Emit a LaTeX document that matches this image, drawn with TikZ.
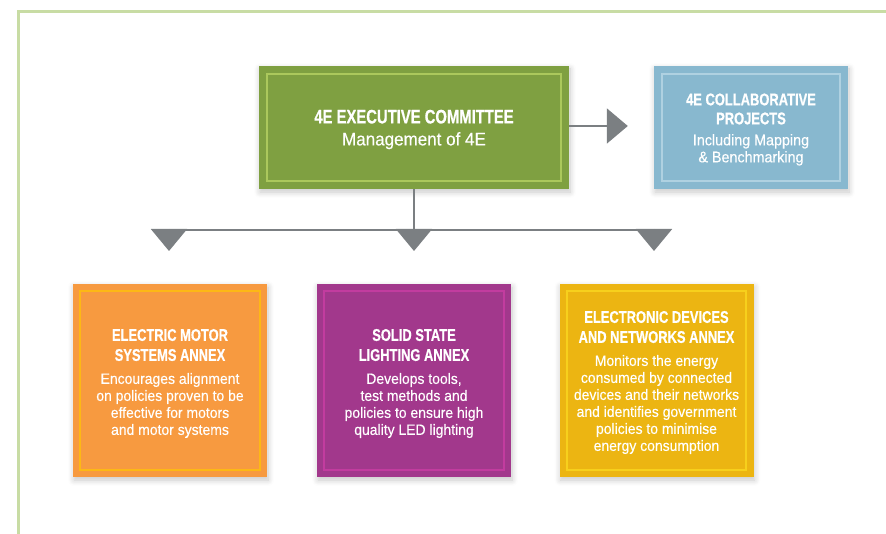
\documentclass[tikz,border=0pt]{standalone}
\usepackage{fontspec}
\usetikzlibrary{calc,arrows.meta,shadows.blur}
\newfontfamily\hdfont[FakeStretch=0.76,FakeBold=0.6]{Liberation Sans}
\newfontfamily\bdfont[FakeStretch=0.93,FakeBold=0.25]{Liberation Sans}
\definecolor{frameG}{HTML}{C8DCA4}
\definecolor{conn}{HTML}{7B7F82}
\definecolor{grn}{HTML}{7FA041}
\definecolor{grnIn}{HTML}{ABC85C}
\definecolor{blu}{HTML}{88B8CF}
\definecolor{bluIn}{HTML}{AFD1E1}
\definecolor{org}{HTML}{F79A40}
\definecolor{orgIn}{HTML}{FDB815}
\definecolor{pur}{HTML}{A2388C}
\definecolor{purIn}{HTML}{C23C9F}
\definecolor{yel}{HTML}{ECB512}
\definecolor{yelIn}{HTML}{F7D01C}
\tikzset{
  box/.style={draw=none, inner sep=0pt, rectangle,
    blur shadow={shadow xshift=1pt, shadow yshift=-3pt, shadow blur radius=6pt, shadow opacity=22, shadow blur steps=8}},
  topbox/.style={box, minimum width=310pt, minimum height=123pt},
  sidebox/.style={box, minimum width=194pt, minimum height=123pt},
  lowbox/.style={box, minimum width=194pt, minimum height=193pt},
  inframe/.style={line width=1.8pt},
  boxtext/.style={text=white, align=center, inner sep=0pt},
  connline/.style={draw=conn, line width=2pt},
  tridown/.style={connline, -{Triangle[width=36pt,length=22pt]}, conn},
  triright/.style={connline, -{Triangle[width=35pt,length=21pt]}, conn}
}
\newcommand{\hdA}{\hdfont\bfseries\fontsize{19.5}{22}\selectfont}
\newcommand{\hdB}{\hdfont\bfseries\fontsize{17}{17}\selectfont}
\begin{document}
\begin{tikzpicture}[x=1pt,y=-1pt]
\useasboundingbox (0,0) rectangle (886,534);
% outer frame
\draw[frameG, line width=3pt] (18,534) -- (18,12) -- (886,12);

% boxes
\node[topbox, fill=grn] (exec) at (414,127.5) {};
\node[sidebox, fill=blu] (collab) at (751,127.5) {};
\node[lowbox, fill=org] (motor) at (170,380.5) {};
\node[lowbox, fill=pur] (ssl) at (414,380.5) {};
\node[lowbox, fill=yel] (edna) at (656.5,380.5) {};

% inner frames
\draw[inframe, grnIn] ($(exec.north west)+(8,8)$) rectangle ($(exec.south east)+(-8,-8)$);
\draw[inframe, bluIn] ($(collab.north west)+(8,8)$) rectangle ($(collab.south east)+(-8,-8)$);
\draw[inframe, orgIn] ($(motor.north west)+(7.5,7.5)$) rectangle ($(motor.south east)+(-7.5,-7.5)$);
\draw[inframe, purIn] ($(ssl.north west)+(7.5,7.5)$) rectangle ($(ssl.south east)+(-7.5,-7.5)$);
\draw[inframe, yelIn] ($(edna.north west)+(7.5,7.5)$) rectangle ($(edna.south east)+(-7.5,-7.5)$);

% texts
\node[boxtext, font=\bdfont\fontsize{18.3}{22}\selectfont] (execT) at ($(exec.center)+(0,2)$)
  {{\hdA 4E EXECUTIVE COMMITTEE}\\Management of 4E};
\node[boxtext, font=\bdfont\fontsize{15.4}{17}\selectfont] (collabT) at ($(collab.center)+(0,2)$)
  {{\hdB 4E COLLABORATIVE}\\[2pt]{\hdB PROJECTS}\\[4pt]Including Mapping\\\& Benchmarking};
\node[boxtext, font=\bdfont\fontsize{15}{17}\selectfont] (motorT) at ($(motor.center)+(0,3)$)
  {{\hdB ELECTRIC MOTOR}\\[3pt]{\hdB SYSTEMS ANNEX}\\[6pt]Encourages alignment\\on policies proven to be\\effective for motors\\and motor systems};
\node[boxtext, font=\bdfont\fontsize{15}{17}\selectfont] (sslT) at ($(ssl.center)+(0,3)$)
  {{\hdB SOLID STATE}\\[3pt]{\hdB LIGHTING ANNEX}\\[6pt]Develops tools,\\test methods and\\policies to ensure high\\quality LED lighting};
\node[boxtext, font=\bdfont\fontsize{15}{17}\selectfont] (ednaT) at ($(edna.center)+(0,2)$)
  {{\hdB ELECTRONIC DEVICES}\\[3pt]{\hdB AND NETWORKS ANNEX}\\[6pt]Monitors the energy\\consumed by connected\\devices and their networks\\and identifies government\\policies to minimise\\energy consumption};

% connectors
\coordinate (bL) at (169,230);
\coordinate (bR) at (654,230);
\coordinate (bM) at (exec.south |- bL);
\coordinate (tipL) at (169,251);
\coordinate (tipM) at (bM |- tipL);
\coordinate (tipR) at (654,251);
\coordinate (rTip) at ($(collab.west)+(-26,-1.5)$);
\draw[connline] (exec.south) -- (bM);
\draw[connline] (bL) -- (bR);
\draw[tridown] ($(bL)+(0,-1)$) -- (tipL);
\draw[tridown] ($(bM)+(0,-1)$) -- (tipM);
\draw[tridown] ($(bR)+(0,-1)$) -- (tipR);
\draw[triright] ($(exec.east)+(0,-1.5)$) -- (rTip);
\end{tikzpicture}
\end{document}
